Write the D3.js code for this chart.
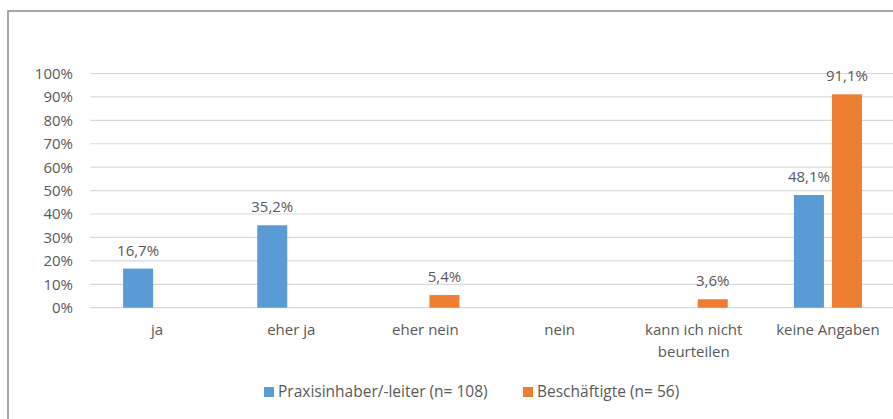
<!DOCTYPE html>
<html><head><meta charset="utf-8">
<script src="https://cdn.jsdelivr.net/npm/d3@7"></script>
<style>
html,body{margin:0;padding:0;background:#fff;overflow:hidden;}
text{font-family:"Open Sans",sans-serif;fill:#595959;}
</style></head>
<body><svg id="c" width="893" height="419"></svg>
<script>
const categories = [["ja"],["eher ja"],["eher nein"],["nein"],["kann ich nicht","beurteilen"],["keine Angaben"]];
const seriesNames = ["Praxisinhaber/-leiter (n= 108)","Beschäftigte (n= 56)"];
const praxisValues = [16.7,35.2,null,null,null,48.1];
const beschValues = [null,null,5.4,null,3.6,91.1];
const yTicks = [0,10,20,30,40,50,60,70,80,90,100];
const colors = ["#5b9bd5","#ed7d31"];

const svg = d3.select("#c");
svg.append("rect").attr("x",8).attr("y",11).attr("width",900).attr("height",420)
  .attr("fill","none").attr("stroke","#8a8a8a").attr("stroke-width",1.5);

const x0 = 90, x1 = 895, yTop = 73.5, yBot = 307.7;
const x = d3.scaleBand().domain(d3.range(categories.length)).range([x0,x1]).paddingInner(0).paddingOuter(0);
const y = d3.scaleLinear().domain([0,100]).range([yBot,yTop]);
const bw = 30, gap = 8;

svg.append("g").selectAll("line").data(yTicks).join("line")
  .attr("x1",x0).attr("x2",893).attr("y1",d=>y(d)).attr("y2",d=>y(d))
  .attr("stroke","#d9d9d9").attr("stroke-width",1.2);

svg.append("g").selectAll("text").data(yTicks).join("text")
  .attr("x",73).attr("y",d=>y(d)).attr("dy","0.36em").attr("text-anchor","end")
  .style("font-size","15px").text(d=>d+"%");

const series = [praxisValues, beschValues];
series.forEach((vals,si)=>{
  const off = si===0 ? -(gap/2+bw) : gap/2;
  const pts = vals.map((v,i)=>({v,i})).filter(d=>d.v!==null);
  svg.append("g").selectAll("rect").data(pts).join("rect")
    .attr("x",d=>x(d.i)+x.bandwidth()/2+off).attr("width",bw)
    .attr("y",d=>y(d.v)).attr("height",d=>y(0)-y(d.v)).attr("fill",colors[si]);
  svg.append("g").selectAll("text").data(pts).join("text")
    .attr("x",d=>x(d.i)+x.bandwidth()/2+off+bw/2).attr("y",d=>y(d.v)-13)
    .attr("text-anchor","middle").style("font-size","15px")
    .text(d=>d3.format(".1f")(d.v).replace(".",",")+"%");
});

const xl = svg.append("g").selectAll("text").data(categories).join("text")
  .attr("x",(d,i)=>x(i)+x.bandwidth()/2).attr("y",335).attr("text-anchor","middle")
  .style("font-size","15px");
xl.each(function(d){
  const t = d3.select(this), cx = t.attr("x");
  d.forEach((line,k)=>t.append("tspan").attr("x",cx).attr("dy",k===0?0:21.7).text(line));
});

const leg = [{x:264,tx:278},{x:523,tx:537}];
seriesNames.forEach((n,i)=>{
  svg.append("rect").attr("x",leg[i].x).attr("y",387).attr("width",10).attr("height",10).attr("fill",colors[i]);
  svg.append("text").attr("x",leg[i].tx).attr("y",397).style("font-size","15.5px").text(n);
});
</script></body></html>
